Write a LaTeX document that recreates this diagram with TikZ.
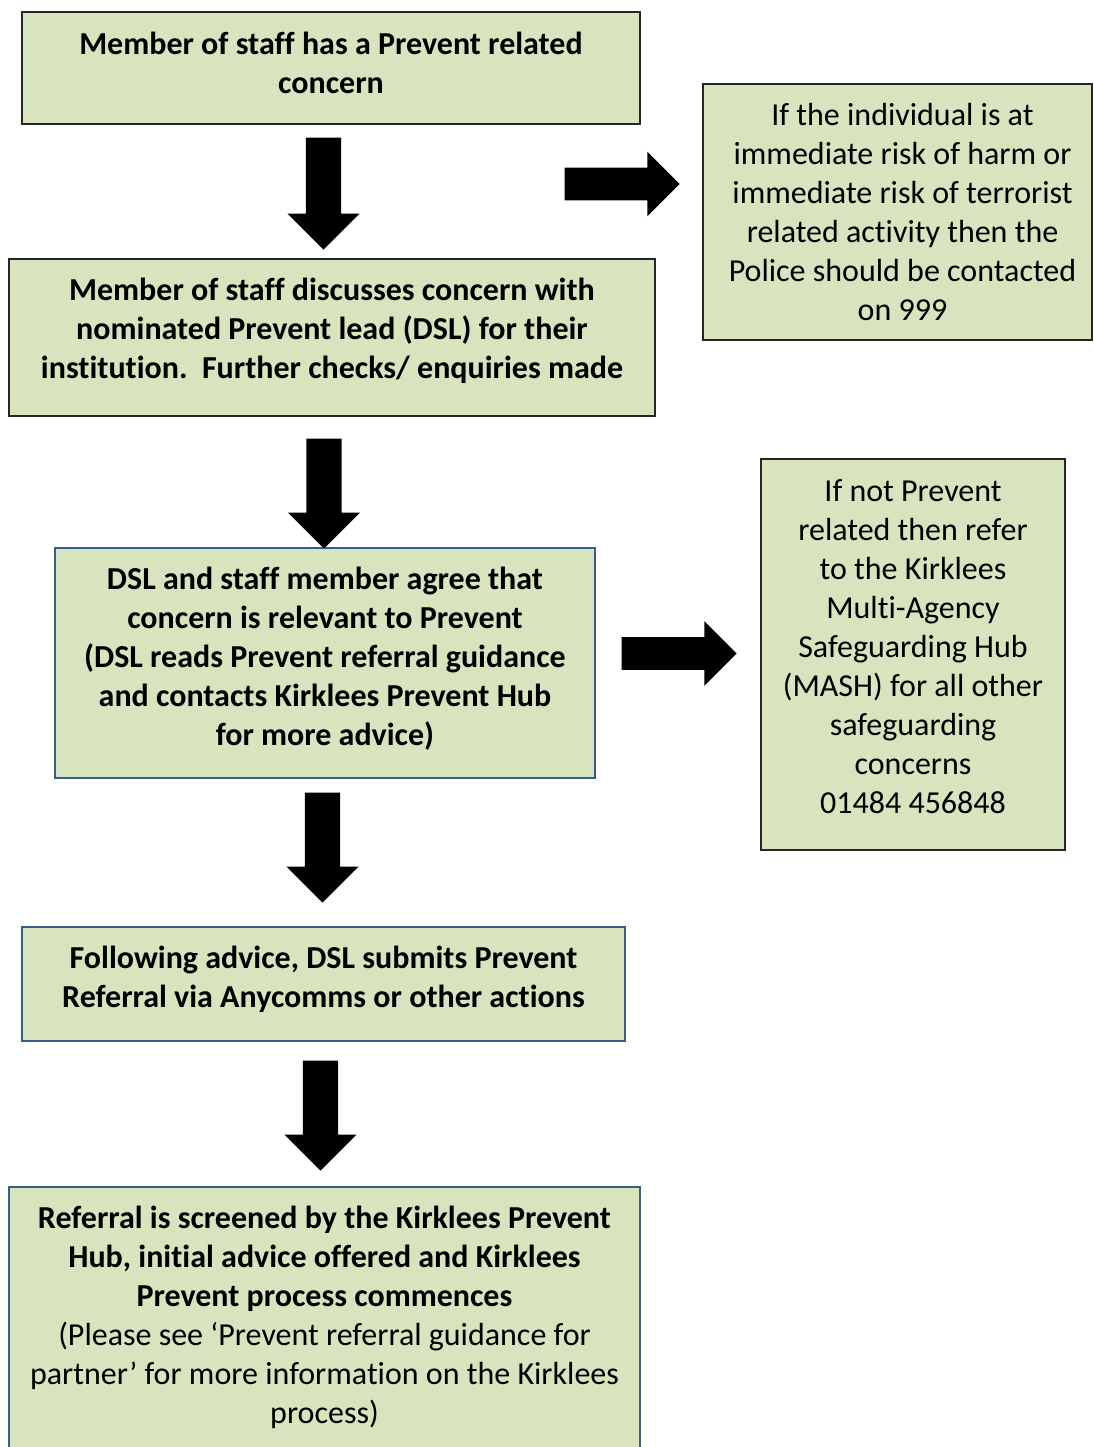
\documentclass[tikz,border=0pt]{standalone}
\usepackage{fontspec}
\setmainfont{Carlito}[Ligatures=NoCommon]
\usetikzlibrary{shapes.arrows,positioning}
\definecolor{boxgreen}{HTML}{D7E4BD}
\definecolor{boxblue}{HTML}{385D8A}
\definecolor{boxedge}{HTML}{262626}
\tikzset{
    %Define style for boxes
    stepbox/.style={
           rectangle,
           draw=boxedge, line width=1.2pt,
           fill=boxgreen,
           inner sep=0pt},
    bluebox/.style={
           draw=boxblue},
    % Define style for the texts in the boxes
    plaintext/.style={
           inner sep=0pt,
           font=\fontsize{32pt}{39pt}\selectfont,
           align=center},
    boldtext/.style={
           plaintext,
           font=\fontsize{32pt}{39pt}\selectfont\bfseries},
    % Define block arrow styles
    downarrow/.style={
           single arrow, fill=black,
           rotate=-90, anchor=tip,
           inner sep=0pt, inner ysep=17.5pt,
           single arrow head extend=18.5pt,
           minimum width=72pt,
           single arrow tip angle=90},
    rightarrow/.style={
           single arrow, fill=black,
           anchor=tip,
           inner sep=0pt, inner ysep=16.25pt,
           single arrow head extend=16pt,
           minimum width=64.5pt,
           single arrow tip angle=90}
}

\begin{document}
\begin{tikzpicture}[x=1pt,y=-1pt]
\useasboundingbox (0,0) rectangle (1093,1447);

\node[stepbox, minimum width=618pt, minimum height=112pt,
  label={[boldtext, yshift=5.5pt]center:{Member of staff has a Prevent related\\concern}}] (concern) at (331,68) {};
\node[stepbox, minimum width=389pt, minimum height=256pt,
  label={[plaintext, xshift=5pt]center:{If the individual is at\\immediate risk of harm or\\immediate risk of terrorist\\related activity then the\\Police should be contacted\\on 999}}] (police) at (897.5,212) {};
\node[stepbox, minimum width=646pt, minimum height=157pt,
  label={[boldtext, yshift=7pt]center:{Member of staff discusses concern with\\nominated Prevent lead (DSL) for their\\institution.\ \ Further checks/ enquiries made}}] (discuss) at (332,337.5) {};
\node[stepbox, bluebox, minimum width=540pt, minimum height=230pt,
  label={[boldtext, yshift=4pt]center:{DSL and staff member agree that\\concern is relevant to Prevent\\(DSL reads Prevent referral guidance\\and contacts Kirklees Prevent Hub\\for more advice)}}] (agree) at (325,663) {};
\node[stepbox, minimum width=304pt, minimum height=391pt,
  label={[plaintext, yshift=7.5pt]center:{If not Prevent\\related then refer\\to the Kirklees\\Multi-Agency\\Safeguarding Hub\\(MASH) for all other\\safeguarding\\concerns\\01484 456848}}] (mash) at (913,654.5) {};
\node[stepbox, bluebox, minimum width=603pt, minimum height=114pt,
  label={[boldtext, yshift=5pt]center:{Following advice, DSL submits Prevent\\Referral via Anycomms or other actions}}] (submit) at (323.5,984) {};
\node[stepbox, bluebox, minimum width=631pt, minimum height=266pt,
  label={[plaintext, yshift=3pt]center:{\textbf{Referral is screened by the Kirklees Prevent}\\\textbf{Hub, initial advice offered and Kirklees}\\\textbf{Prevent process commences}\\(Please see ‘Prevent referral guidance for\\partner’ for more information on the Kirklees\\process)}}] (screen) at (324.5,1320) {};

% block arrows
\node[downarrow, minimum height=112pt] (arrDiscuss) at (323.5,250) {};
\node[rightarrow, minimum height=115pt] (arrPolice) at (680,184) {};
\node[downarrow, minimum height=110pt] (arrAgree) at (324,549) {};
\node[rightarrow, minimum height=115pt] (arrMash) at (737,653.5) {};
\node[downarrow, minimum height=110pt] (arrSubmit) at (322.5,903) {};
\node[downarrow, minimum height=110pt] (arrScreen) at (320.5,1171) {};

\end{tikzpicture}
\end{document}
